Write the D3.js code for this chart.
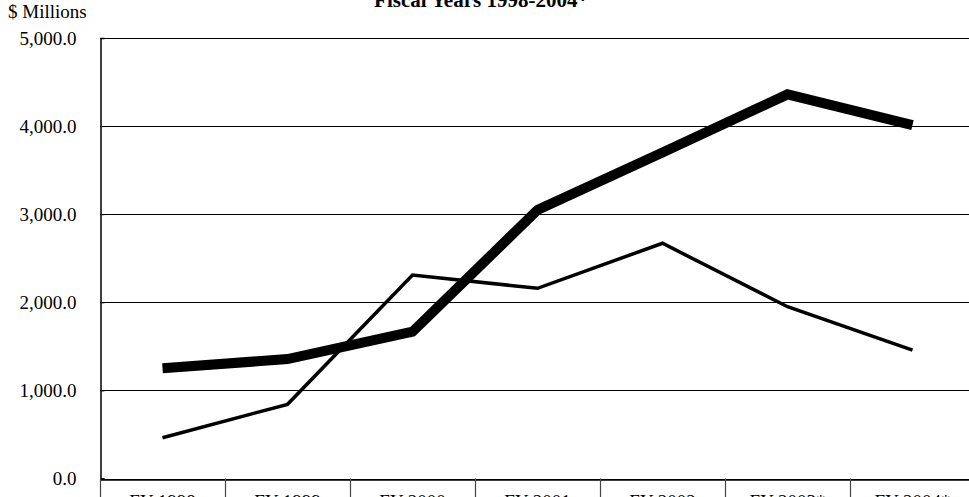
<!DOCTYPE html>
<html>
<head>
<meta charset="utf-8">
<script src="https://cdn.jsdelivr.net/npm/d3@7"></script>
<style>
  html, body { margin: 0; padding: 0; background: #fff; overflow: hidden; }
  svg { display: block; }
  text { font-family: "Liberation Serif", "Times New Roman", serif; fill: #000; }
</style>
</head>
<body>
<svg id="chart" width="969" height="497"></svg>
<script>
// Fiscal years along the category axis
const categories = ["FY 1998", "FY 1999", "FY 2000", "FY 2001", "FY 2002", "FY 2003*", "FY 2004*"];
// Heavy line series ($ millions)
const seriesHeavy = [1251, 1356, 1666, 3048, 3700, 4360, 4012];
// Light line series ($ millions)
const seriesLight = [463, 842, 2310, 2159, 2670, 1950, 1458];
// Value axis ticks
const yTicks = [0, 1000, 2000, 3000, 4000, 5000];
const titleText = "Fiscal Years 1998-2004*";
const unitText = "$ Millions";

const svg = d3.select("#chart");
const plotLeft = 100, plotRight = 975, plotTop = 38, plotBottom = 478.5;

const x = d3.scaleBand().domain(categories).range([plotLeft, plotRight]).padding(0);
const y = d3.scaleLinear().domain([0, 5000]).range([plotBottom, plotTop]);

// Title (partly above the visible frame)
svg.append("text")
  .attr("x", 481).attr("y", 7)
  .attr("text-anchor", "middle")
  .style("font-size", "21px").style("font-weight", "bold")
  .text(titleText);

// Unit label
svg.append("text")
  .attr("x", 8).attr("y", 18)
  .style("font-size", "19px")
  .text(unitText);

// Horizontal gridlines
svg.append("g")
  .selectAll("line")
  .data(yTicks)
  .join("line")
  .attr("x1", plotLeft).attr("x2", plotRight)
  .attr("y1", d => Math.round(y(d)) + 0.5).attr("y2", d => Math.round(y(d)) + 0.5)
  .attr("stroke", "#000").attr("stroke-width", 1.2);

// Value axis
const yAxis = d3.axisLeft(y)
  .tickValues(yTicks)
  .tickFormat(d3.format(",.1f"))
  .tickSize(-4)
  .tickPadding(24);
const gy = svg.append("g").attr("transform", `translate(${plotLeft + 0.5},0)`).call(yAxis);
gy.select(".domain").attr("stroke", "#000").attr("stroke-width", 1.5);
gy.selectAll(".tick line").attr("stroke", "#000");
gy.selectAll(".tick text")
  .style("font-family", "'Liberation Serif', 'Times New Roman', serif")
  .style("font-size", "19px");

// Category axis with dividers between categories
const xAxis = d3.axisBottom(x).tickSize(0).tickPadding(15.5);
const gx = svg.append("g").attr("transform", `translate(0,${Math.round(plotBottom) + 0.5})`).call(xAxis);
gx.select(".domain").attr("stroke", "#000").attr("stroke-width", 1.5);
gx.selectAll(".tick text")
  .style("font-family", "'Liberation Serif', 'Times New Roman', serif")
  .style("font-size", "19px");

const dividers = categories.map(c => x(c)).concat([plotRight]);
svg.append("g")
  .selectAll("line")
  .data(dividers)
  .join("line")
  .attr("x1", d => Math.round(d) + 0.5).attr("x2", d => Math.round(d) + 0.5)
  .attr("y1", plotBottom).attr("y2", plotBottom + 40)
  .attr("stroke", "#444").attr("stroke-width", 1.2);

// Series lines
const line = d3.line()
  .x((d, i) => x(categories[i]) + x.bandwidth() / 2)
  .y(d => y(d));

svg.append("path")
  .datum(seriesLight)
  .attr("d", line)
  .attr("fill", "none")
  .attr("stroke", "#000")
  .attr("stroke-width", 3.5)
  .attr("stroke-linejoin", "miter");

svg.append("path")
  .datum(seriesHeavy)
  .attr("d", line)
  .attr("fill", "none")
  .attr("stroke", "#000")
  .attr("stroke-width", 10)
  .attr("stroke-linejoin", "miter");
</script>
</body>
</html>
